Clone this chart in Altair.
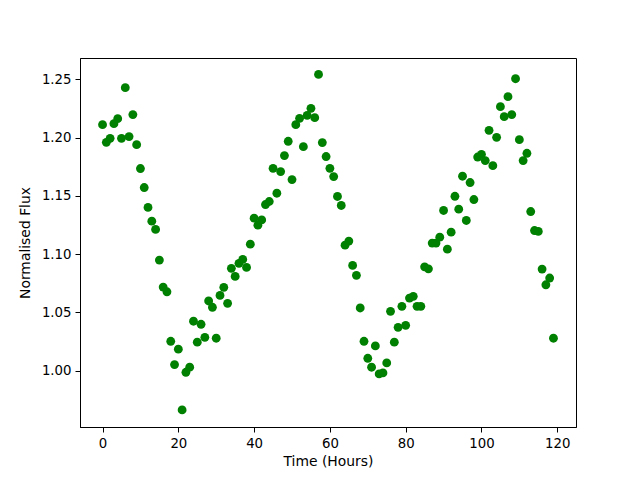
import altair as alt
import pandas as pd

hours = list(range(120))
flux = [
    1.2112, 1.1960, 1.1994, 1.2120, 1.2163, 1.1994, 1.2429, 1.2009, 1.2198, 1.1940,
    1.1735, 1.1572, 1.1401, 1.1283, 1.1212, 1.0949, 1.0717, 1.0677, 1.0252, 1.0052,
    1.0184, 0.9663, 0.9986, 1.0029, 1.0424, 1.0244, 1.0398, 1.0286, 1.0598, 1.0544,
    1.0278, 1.0646, 1.0715, 1.0578, 1.0878, 1.0809, 1.0921, 1.0955, 1.0886, 1.1086,
    1.1309, 1.1249, 1.1294, 1.1426, 1.1452, 1.1737, 1.1523, 1.1709, 1.1846, 1.1969,
    1.1640, 1.2112, 1.2166, 1.1923, 1.2192, 1.2252, 1.2172, 1.2543, 1.1958, 1.1838,
    1.1737, 1.1666, 1.1495, 1.1418, 1.1077, 1.1112, 1.0903, 1.0818, 1.0538, 1.0252,
    1.0106, 1.0029, 1.0212, 0.9972, 0.9980, 1.0066, 1.0509, 1.0244, 1.0372, 1.0552,
    1.0389, 1.0623, 1.0638, 1.0552, 1.0552, 1.0891, 1.0874, 1.1095, 1.1095, 1.1146,
    1.1375, 1.1043, 1.1189, 1.1497, 1.1386, 1.1669, 1.1289, 1.1615, 1.1469, 1.1834,
    1.1857, 1.1803, 1.2063, 1.1760, 1.2003, 1.2266, 1.2180, 1.2352, 1.2198, 1.2506,
    1.1983, 1.1803, 1.1866, 1.1366, 1.1203, 1.1195, 1.0872, 1.0737, 1.0795, 1.0278,
]
x_ticks = [0, 20, 40, 60, 80, 100, 120]
y_ticks = [1.00, 1.05, 1.10, 1.15, 1.20, 1.25]

df = pd.DataFrame({"t": hours, "f": flux})

font = "DejaVu Sans"

chart = alt.Chart(df).mark_circle(color="#008000", opacity=1, size=78).encode(
    x=alt.X("t:Q", scale=alt.Scale(domain=[-5.95, 124.95], nice=False, zero=False),
            axis=alt.Axis(values=x_ticks, title="Time (Hours)", format="d")),
    y=alt.Y("f:Q", scale=alt.Scale(domain=[0.9516, 1.2684], nice=False, zero=False),
            axis=alt.Axis(values=y_ticks, title="Normalised Flux", format=".2f")),
).properties(
    width=496, height=369,
    autosize=alt.AutoSizeParams(type="none"),
    padding={"left": 72, "top": 50, "right": 56, "bottom": 45},
).configure_view(
    stroke="black", strokeWidth=1, fill="white"
).configure_axis(
    grid=False, domainColor="black", domainWidth=1, tickColor="black", tickSize=5,
    tickWidth=1, labelColor="black", labelFont=font, labelFontSize=13.3,
    labelPadding=4, labelFlush=False, labelOverlap=False,
    titleFont=font, titleFontSize=13.9, titleFontWeight="normal", titleColor="black",
).configure_axisX(titlePadding=5).configure_axisY(titlePadding=9)

chart.save("out.html", embed_options={"renderer": "svg", "actions": False})
